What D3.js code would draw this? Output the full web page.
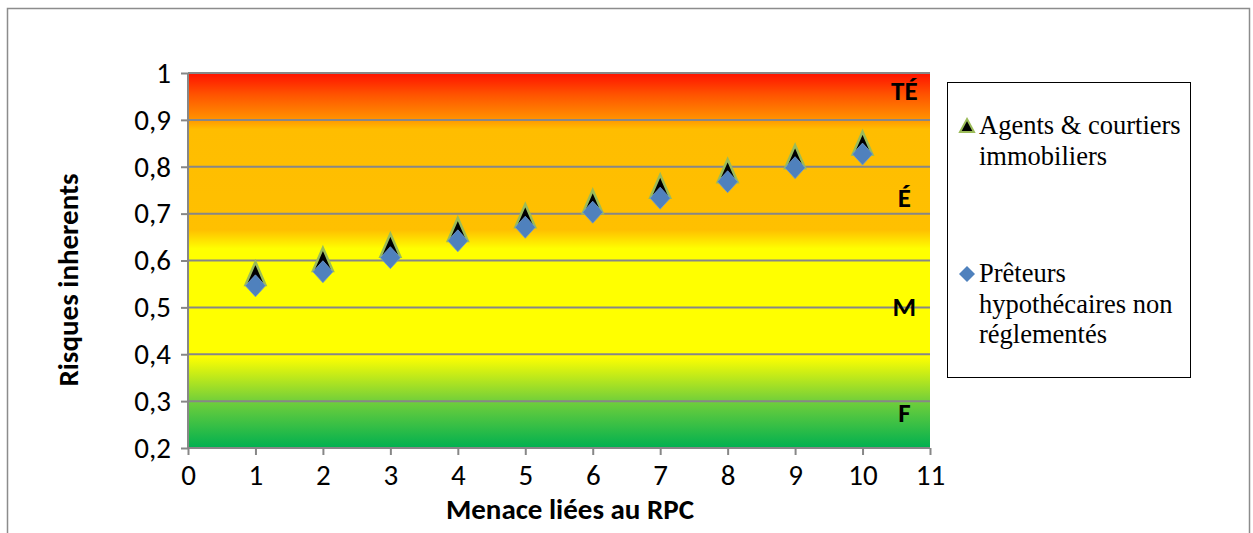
<!DOCTYPE html>
<html>
<head>
<meta charset="utf-8">
<script src="https://cdn.jsdelivr.net/npm/d3@7"></script>
<style>
  body { margin: 0; background: #fff; }
  #viz { width: 1253px; height: 533px; }
</style>
</head>
<body>
<div id="viz"></div>
<script>
// threat index on x
var menaces = [1, 2, 3, 4, 5, 6, 7, 8, 9, 10];
// Agents & courtiers immobiliers
var agents = [0.567, 0.597, 0.627, 0.661, 0.690, 0.720, 0.753, 0.786, 0.816, 0.845];
// Prêteurs hypothécaires non réglementés
var preteurs = [0.546, 0.576, 0.606, 0.642, 0.671, 0.703, 0.733, 0.768, 0.798, 0.827];
var yTicks = [0.2, 0.3, 0.4, 0.5, 0.6, 0.7, 0.8, 0.9, 1];
var xTicks = [0, 1, 2, 3, 4, 5, 6, 7, 8, 9, 10, 11];
var zoneLabels = ["TÉ", "É", "M", "F"];
var zoneY = [0.964, 0.735, 0.502, 0.277];
var legendNames = [["Agents & courtiers", "immobiliers"], ["Prêteurs", "hypothécaires non", "réglementés"]];

var sansFont = "Carlito, Calibri, 'Open Sans', sans-serif";
var serifFont = "'Liberation Serif', 'Times New Roman', 'DejaVu Serif', serif";

var width = 1253, height = 533;
var margin = {top: 73, right: 323, bottom: 85, left: 188};
var innerW = width - margin.left - margin.right;
var innerH = height - margin.top - margin.bottom;

var svg = d3.select("#viz").append("svg")
    .attr("width", width)
    .attr("height", height);

// outer frame
svg.append("rect")
    .attr("x", 7.5).attr("y", 8.5)
    .attr("width", 1242).attr("height", 540)
    .attr("fill", "none").attr("stroke", "#8c8c8c").attr("stroke-width", 1.5);

var x = d3.scaleLinear().domain([0, 11]).range([0, innerW]);
var y = d3.scaleLinear().domain([0.2, 1]).range([innerH, 0]);

var g = svg.append("g").attr("transform", "translate(" + margin.left + "," + margin.top + ")");

// background gradient (risk zones)
var stops = [
  [1.0, "#ff1100"], [0.955, "#ff5200"], [0.905, "#ff8d00"], [0.88, "#ffbd00"],
  [0.665, "#ffc000"], [0.625, "#ffff00"], [0.395, "#ffff00"], [0.3, "#72cf3a"], [0.2, "#00b050"]
];
var grad = svg.append("defs").append("linearGradient")
    .attr("id", "zones")
    .attr("gradientUnits", "userSpaceOnUse")
    .attr("x1", 0).attr("x2", 0).attr("y1", y(1)).attr("y2", y(0.2));
grad.selectAll("stop").data(stops).enter().append("stop")
    .attr("offset", function(d){ return (y(d[0]) - y(1)) / (y(0.2) - y(1)); })
    .attr("stop-color", function(d){ return d[1]; });

g.append("rect")
    .attr("x", 0).attr("y", 0)
    .attr("width", innerW).attr("height", innerH)
    .attr("fill", "url(#zones)");

// gridlines
g.selectAll(".grid").data(yTicks.filter(function(d){ return d > 0.2; }))
  .enter().append("line")
    .attr("class", "grid")
    .attr("x1", 0).attr("x2", innerW)
    .attr("y1", function(d){ return y(d); }).attr("y2", function(d){ return y(d); })
    .attr("stroke", "#878787").attr("stroke-width", 2);

// axes
var fmt = function(d){ return String(d).replace(".", ","); };
var yAxis = g.append("g")
    .call(d3.axisLeft(y).tickValues(yTicks).tickFormat(fmt).tickSize(7).tickPadding(10));
var xAxis = g.append("g")
    .attr("transform", "translate(0," + innerH + ")")
    .call(d3.axisBottom(x).tickValues(xTicks).tickFormat(d3.format("d")).tickSize(7).tickPadding(9));
[yAxis, xAxis].forEach(function(a){
  a.selectAll("path, line").attr("stroke", "#878787").attr("stroke-width", 2);
  a.select(".domain").attr("d", a === yAxis ? "M0," + innerH + "V0" : "M0,0H" + innerW);
  a.selectAll("text")
      .style("font-family", sansFont).style("font-size", "29px").style("fill", "#000");
});

// zone labels
g.selectAll(".zone").data(zoneLabels).enter().append("text")
    .attr("x", x(10.62))
    .attr("y", function(d, i){ return y(zoneY[i]); })
    .attr("dy", "0.36em")
    .attr("text-anchor", "middle")
    .style("font-family", sansFont)
    .style("font-weight", "bold").style("font-size", "27px")
    .text(function(d){ return d; });

// markers
var triPath = "M0,-14L10,9L-10,9Z";
var diaPath = "M0,-11L10,0L0,11L-10,0Z";
g.selectAll(".tri").data(menaces).enter().append("path")
    .attr("class", "tri")
    .attr("d", triPath)
    .attr("transform", function(d, i){ return "translate(" + x(d) + "," + y(agents[i]) + ")"; })
    .attr("fill", "#000").attr("stroke", "#9bbb59").attr("stroke-width", 2.5)
    .attr("stroke-linejoin", "miter");
g.selectAll(".dia").data(menaces).enter().append("path")
    .attr("class", "dia")
    .attr("d", diaPath)
    .attr("transform", function(d, i){ return "translate(" + x(d) + "," + y(preteurs[i]) + ")"; })
    .attr("fill", "#4f81bd").attr("stroke", "#6f9acd").attr("stroke-width", 0.8);

// axis titles
svg.append("text")
    .attr("transform", "translate(78,280) rotate(-90)")
    .attr("text-anchor", "middle")
    .style("font-family", sansFont)
    .style("font-weight", "bold").style("font-size", "29px")
    .text("Risques inherents");
svg.append("text")
    .attr("x", 570).attr("y", 519)
    .attr("text-anchor", "middle")
    .style("font-family", sansFont)
    .style("font-weight", "bold").style("font-size", "29px")
    .text("Menace liées au RPC");

// legend
var leg = svg.append("g");
leg.append("rect")
    .attr("x", 947.5).attr("y", 82.5).attr("width", 243).attr("height", 295)
    .attr("fill", "#fff").attr("stroke", "#000").attr("stroke-width", 1);
var legY = [134, 282];
var lineH = 30.5;
legendNames.forEach(function(lines, i){
  var t = leg.append("text")
      .attr("x", 979).attr("y", legY[i])
      .style("font-family", serifFont)
      .style("font-size", "26.5px").style("fill", "#000");
  lines.forEach(function(l, j){
    t.append("tspan").attr("x", 979).attr("dy", j === 0 ? 0 : lineH).text(l);
  });
});
leg.append("path")
    .attr("d", "M0,-7L7,6L-7,6Z")
    .attr("transform", "translate(967," + (legY[0] - 8) + ")")
    .attr("fill", "#000").attr("stroke", "#9bbb59").attr("stroke-width", 2);
leg.append("path")
    .attr("d", "M0,-8L8,0L0,8L-8,0Z")
    .attr("transform", "translate(967," + (legY[1] - 8) + ")")
    .attr("fill", "#4f81bd");
</script>
</body>
</html>
